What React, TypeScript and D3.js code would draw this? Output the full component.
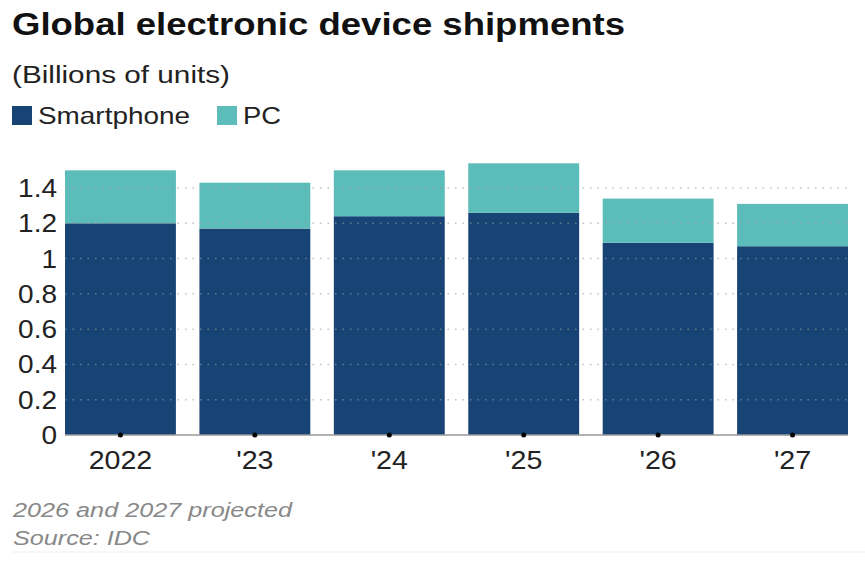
import React, { useRef, useEffect } from 'react';
import * as d3 from 'd3';

const years = ['2022', "'23", "'24", "'25", "'26", "'27"];
const smartphone = [1.2, 1.17, 1.24, 1.26, 1.09, 1.07];
const pc = [0.3, 0.26, 0.26, 0.28, 0.25, 0.24];
const yTicks = [0, 0.2, 0.4, 0.6, 0.8, 1, 1.2, 1.4];

const NAVY = '#184475';
const TEAL = '#5bbcb9';
const FONT = '"Liberation Sans", Arial, sans-serif';

export default function App() {
  const ref = useRef<SVGSVGElement>(null);

  useEffect(() => {
    const svg = d3.select(ref.current);
    svg.selectAll('*').remove();
    svg.style('font-family', FONT);

    const left = 65, right = 848, bottom = 435;

    const x = d3.scaleBand().domain(years).range([left, right]).paddingInner(0.175).paddingOuter(0);
    const y = d3.scaleLinear().domain([0, 1.4]).range([bottom, 188]);

    // fixed-width text helper (stretches glyphs to the given width)
    const label = (tx: number, ty: number, str: string, size: number, w: number, fill: string, extra: Record<string, string> = {}) => {
      const t = svg.append('text').attr('x', tx).attr('y', ty).text(str)
        .attr('textLength', w).attr('lengthAdjust', 'spacingAndGlyphs')
        .style('font-size', `${size}px`).attr('fill', fill);
      Object.entries(extra).forEach(([k, v]) => t.style(k, v));
      return t;
    };

    // Title block
    label(12, 35, 'Global electronic device shipments', 31, 613, '#111', { 'font-weight': 'bold' });
    label(12, 83, '(Billions of units)', 23, 218, '#222');

    // Legend
    const legend = [
      { label: 'Smartphone', color: NAVY, x: 12, w: 152 },
      { label: 'PC', color: TEAL, x: 217, w: 38 },
    ];
    legend.forEach(d => {
      svg.append('rect').attr('x', d.x).attr('y', 106).attr('width', 20).attr('height', 19).attr('fill', d.color);
      label(d.x + 26, 124, d.label, 24, d.w, '#222');
    });

    // Stacked bars
    const g = svg.append('g');
    g.selectAll('rect.phone').data(years).enter().append('rect').attr('class', 'phone')
      .attr('x', d => x(d)!).attr('width', x.bandwidth())
      .attr('y', (d, i) => y(smartphone[i])).attr('height', (d, i) => y(0) - y(smartphone[i]))
      .attr('fill', NAVY);
    g.selectAll('rect.pc').data(years).enter().append('rect').attr('class', 'pc')
      .attr('x', d => x(d)!).attr('width', x.bandwidth())
      .attr('y', (d, i) => y(smartphone[i] + pc[i])).attr('height', (d, i) => y(smartphone[i]) - y(smartphone[i] + pc[i]))
      .attr('fill', TEAL);

    // Dotted grid over the bars
    svg.append('g').selectAll('line').data(yTicks.filter(t => t > 0)).enter().append('line')
      .attr('x1', left).attr('x2', right).attr('y1', d => y(d)).attr('y2', d => y(d))
      .attr('stroke', '#999').attr('stroke-opacity', 0.6).attr('stroke-width', 1.5)
      .attr('stroke-dasharray', '1.5,6');

    // Baseline
    svg.append('line').attr('x1', left).attr('x2', right).attr('y1', y(0)).attr('y2', y(0))
      .attr('stroke', '#999').attr('stroke-width', 1.5);

    // Y axis labels
    svg.append('g').selectAll('text').data(yTicks).enter().append('text')
      .attr('transform', d => `translate(57,${y(d) + 9}) scale(1.12,1)`).attr('text-anchor', 'end')
      .text(d => d3.format('~g')(d)).style('font-size', '25px').attr('fill', '#222');

    // X ticks and labels
    const xa = svg.append('g').selectAll('g').data(years).enter().append('g')
      .attr('transform', d => `translate(${x(d)! + x.bandwidth() / 2},0)`);
    xa.append('circle').attr('cy', y(0)).attr('r', 2.5).attr('fill', '#000');
    xa.append('text').attr('transform', 'translate(0,469) scale(1.1,1)').attr('text-anchor', 'middle').text(d => d)
      .style('font-size', '26px').attr('fill', '#222');

    // Footer
    label(13, 517, '2026 and 2027 projected', 20, 279, '#888', { 'font-style': 'italic' });
    label(13, 545, 'Source: IDC', 20, 137, '#888', { 'font-style': 'italic' });
    svg.append('line').attr('x1', 12).attr('x2', 865).attr('y1', 552).attr('y2', 552)
      .attr('stroke', '#eee').attr('stroke-width', 1);
  }, []);

  return <svg ref={ref} width={865} height={569} style={{ position: 'absolute', left: 0, top: 0 }} />;
}
